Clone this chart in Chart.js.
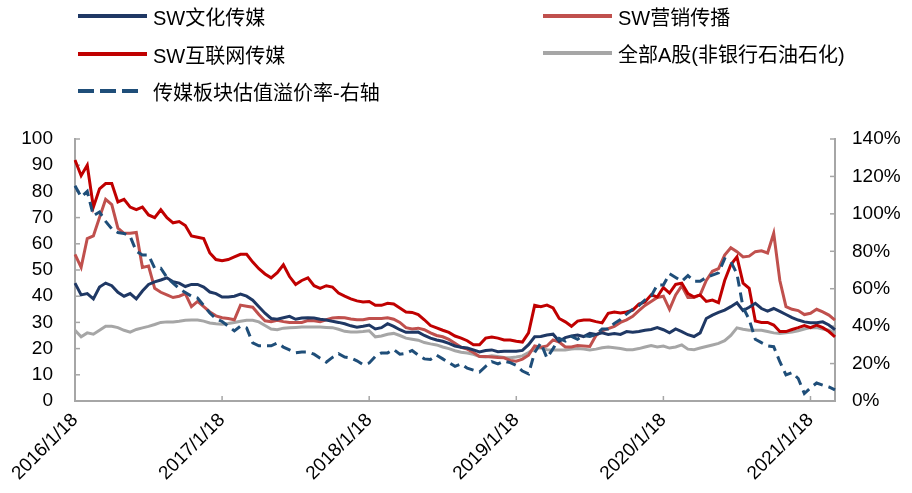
<!DOCTYPE html>
<html>
<head>
<meta charset="utf-8">
<script src="https://cdn.jsdelivr.net/npm/chart.js@4.4.1/dist/chart.umd.min.js"></script>
<style>
  html, body { margin: 0; padding: 0; background: #fff; }
  #wrap { position: relative; width: 912px; height: 493px; }
  #c { position: absolute; left: 0; top: 0; }
  .lg { position: absolute; height: 26px; display: flex; align-items: center; white-space: nowrap;
        font-family: "Liberation Sans", Arial, "Noto Sans CJK SC", sans-serif; font-size: 20px; color: #000; }
  .lg .sw { width: 69px; height: 4px; margin-right: 6px; }
</style>
</head>
<body>
<div id="wrap">
  <canvas id="c" width="912" height="493"></canvas>
</div>
<script>
// ---- categories (semi-monthly sample dates) ----
const dates = [
"2016/1/18","2016/2/3","2016/2/18","2016/3/3","2016/3/18","2016/4/3","2016/4/18","2016/5/3","2016/5/18","2016/6/3","2016/6/18","2016/7/3","2016/7/18","2016/8/3","2016/8/18","2016/9/3","2016/9/18","2016/10/3","2016/10/18","2016/11/3","2016/11/18","2016/12/3","2016/12/18",
"2017/1/3","2017/1/18","2017/2/3","2017/2/18","2017/3/3","2017/3/18","2017/4/3","2017/4/18","2017/5/3","2017/5/18","2017/6/3","2017/6/18","2017/7/3","2017/7/18","2017/8/3","2017/8/18","2017/9/3","2017/9/18","2017/10/3","2017/10/18","2017/11/3","2017/11/18","2017/12/3","2017/12/18",
"2018/1/3","2018/1/18","2018/2/3","2018/2/18","2018/3/3","2018/3/18","2018/4/3","2018/4/18","2018/5/3","2018/5/18","2018/6/3","2018/6/18","2018/7/3","2018/7/18","2018/8/3","2018/8/18","2018/9/3","2018/9/18","2018/10/3","2018/10/18","2018/11/3","2018/11/18","2018/12/3","2018/12/18",
"2019/1/3","2019/1/18","2019/2/3","2019/2/18","2019/3/3","2019/3/18","2019/4/3","2019/4/18","2019/5/3","2019/5/18","2019/6/3","2019/6/18","2019/7/3","2019/7/18","2019/8/3","2019/8/18","2019/9/3","2019/9/18","2019/10/3","2019/10/18","2019/11/3","2019/11/18","2019/12/3","2019/12/18",
"2020/1/3","2020/1/18","2020/2/3","2020/2/18","2020/3/3","2020/3/18","2020/4/3","2020/4/18","2020/5/3","2020/5/18","2020/6/3","2020/6/18","2020/7/3","2020/7/18","2020/8/3","2020/8/18","2020/9/3","2020/9/18","2020/10/3","2020/10/18","2020/11/3","2020/11/18","2020/12/3","2020/12/18",
"2021/1/3","2021/1/18","2021/2/3","2021/2/18","2021/3/3","2021/3/18"
];

// ---- series (left axis, PE) ----
const swWenhua = [
45,40.5,41,39,43.5,45,44,41.5,40,41,
39,42,44.5,45.5,46.2,47,45.5,45,43.7,44.5,
44.5,43.5,41.6,41,39.7,39.7,40,40.8,40,38.5,
36,33.5,31.5,31.2,31.8,32.3,31.2,31.7,31.8,31.7,
31.2,30.9,30.4,30,29.5,28.7,28.2,28.5,29,27.5,
28,29.5,28.5,27.2,26.2,26.2,26.3,25,24,23.3,
22.8,22,21,20.5,20.2,19.5,18.7,19.3,19.5,18.8,
19,19,19,19.3,21.5,24.5,24.6,25.2,25.5,22.8,
24.2,24.8,25.2,24.6,25.8,25.4,26,25.4,25.8,25.4,
26.5,26.2,26.5,27,27.3,28,27.2,26,27.5,26.5,
25.3,24.6,26,31.5,32.8,33.8,34.7,36,37.5,34.5,
35.8,37.3,35.3,34.3,35.3,34.2,33,31.8,30.9,30.2,
29.9,29.9,30.2,29,27.2
];
const swYingxiao = [
56,51,62,63,70,77,75,66,64,64,
64.3,51,51.5,43,41.5,40.5,39.5,40,41,36,
38,36,34,32.5,31.8,31.5,31,36.6,36.2,35.8,
33,30.6,30.3,30.8,30.3,30,30,30,30.7,30.6,
30.3,31,31.7,31.9,31.8,31.3,31,31,31.5,31.5,
31.5,31.8,31.2,30,28,27.5,27.8,27.2,26,25,
24.5,23.5,22,20.5,19.8,18.5,17,17,16.8,16.6,
16.5,15.5,15.2,16,17.5,21,20.5,21,23.3,22.5,
20.6,20.6,21.2,21,20.8,25,26.8,27.6,28.5,30,
31,32.3,34.5,36.5,38,39.5,40,35,40.5,44,
39.5,39.5,40.5,46,49.5,50.5,55.7,58.5,57,55,
55.3,57,57.3,56.5,64,46,36,35,34.5,33,
33.5,35,34,32.8,30.9
];
const swHulianwang = [
92,86,90,74,81,83,83,76,77,74,
73,74,71,70,73,70,68,68.5,67,63,
62.5,62,56.5,54,53.5,54,55,56,56,53,
50.5,48.5,47,49,52,47.5,44.5,46,47,44,
43,44,43.5,41.2,40,39,38.2,37.8,38,36.5,
36.5,37.3,37,35.5,34,33.8,33,31,28.8,27.9,
27,26.2,24.8,24,23,21.5,21.5,24,24.4,24,
23.3,23.3,22.8,22.5,26,36.5,36,36.6,35.5,31.5,
30.2,28.5,30.5,30.9,30.9,30.3,29.8,33.5,34,33.6,
34,34.7,37,37.8,40.5,39.7,43.3,41.2,44.5,45,
41,39.7,40.5,38,38.5,37.5,46,52,55,45,
43,30.5,30,30,29,26.5,26.5,27.3,28,28.8,
28,29,28,26.5,24.5
];
const allAShare = [
27,24.5,26,25.5,27,28.5,28.5,28,27,26.3,
27.3,27.9,28.5,29.2,30,30.2,30.2,30.4,30.8,30.9,
30.9,30.5,29.8,29.5,29.3,29.6,30,30.4,30.8,30.8,
30.2,28.8,27.5,27.2,27.8,28,28.1,28.2,28.2,28.2,
28.2,28.1,28,27.4,26.6,26.3,26.3,26.5,26.8,24.5,
24.8,25.5,25.8,25,24,23.6,23.2,22.3,21.8,21.4,
20.6,20,19.2,18.6,18.3,17.8,17,16.8,17.3,17,
16.6,16.5,16.8,17.2,18.5,20,20.3,19.6,19.5,19.5,
19.5,19.8,20,19.8,19.5,19.8,20.3,20.6,20.3,20,
19.6,19.6,20,20.6,21.2,20.6,21,20.2,20.6,21.4,
19.8,19.6,20.2,20.8,21.4,22,23,25,27.9,27.4,
27,27,27,26.5,26,25.8,26,26.3,26.8,27.5,
28,28,27.5,27,26
];
// ---- series (right axis, premium %) ----
const mediaPremium = [
115,109,112,99,101,96,92,90,89.5,88,
80,78,78,71,71,66,63,60,58,56,
55,51,47,44,42.5,40,37.5,40,39,31,
29.5,29.5,29.5,31,28.8,27.3,25.8,26.2,26.2,25,
22.8,20.8,23.3,25.3,23.5,23,21.5,19.5,20.3,23.8,
25.7,25.7,27.5,25,25.5,27,24.5,22.5,22.2,24.5,
22.5,20.5,18.5,19.8,17.5,16.5,15.5,18.5,21,19.8,
21.3,20.5,19,16,14.5,26,31,23,28,33.5,
32,34.5,33,35,34.5,35.5,38.5,38.5,41.5,43.5,
46.5,49,51,54,56,62,62,68,66,64,
67,64,64,66,67.3,68.5,76,74.5,68,50,
43.5,33,31.2,29.5,29,21,14,15.2,12,4,
7,9.6,8.5,7.5,5.9
];

// ---- tick labels ----
const xTickLabels = ["2016/1/18","2017/1/18","2018/1/18","2019/1/18","2020/1/18","2021/1/18"];
const leftTicks = [0,10,20,30,40,50,60,70,80,90,100];
const rightTicks = [0,20,40,60,80,100,120,140];

const seriesNames = ["SW文化传媒","SW营销传播","SW互联网传媒","全部A股(非银行石油石化)","传媒板块估值溢价率-右轴"];

const AXIS = '#A6A6A6';
const innerTicks = {
  id: 'innerTicks',
  beforeDatasetsDraw(chart) {
    const ctx = chart.ctx, a = chart.chartArea, s = chart.scales;
    ctx.save();
    ctx.strokeStyle = AXIS; ctx.lineWidth = 1.5;
    s.x.ticks.forEach((t, i) => {
      if (t.label === null || t.label === undefined || t.label === '') return;
      const px = s.x.getPixelForTick(i);
      ctx.beginPath(); ctx.moveTo(px, a.bottom); ctx.lineTo(px, a.bottom - 5); ctx.stroke();
    });
    s.y.ticks.forEach((t, i) => {
      const py = s.y.getPixelForTick(i);
      ctx.beginPath(); ctx.moveTo(a.left, py); ctx.lineTo(a.left + 5, py); ctx.stroke();
    });
    s.y1.ticks.forEach((t, i) => {
      const py = s.y1.getPixelForTick(i);
      ctx.beginPath(); ctx.moveTo(a.right, py); ctx.lineTo(a.right - 5, py); ctx.stroke();
    });
    ctx.restore();
  }
};

Chart.defaults.font.family = '"Liberation Sans", Arial, sans-serif';
Chart.defaults.color = '#000';

const colors = ['#1F3864', '#C0504D', '#C00000', '#A6A6A6', '#1F4E79'];
const values = [swWenhua, swYingxiao, swHulianwang, allAShare, mediaPremium];
const drawOrder = [2, 4, 3, 5, 1];

const datasets = values.map((v, i) => ({
  label: seriesNames[i],
  data: v,
  yAxisID: i === 4 ? 'y1' : 'y',
  borderColor: colors[i],
  backgroundColor: colors[i],
  borderWidth: 3,
  borderDash: i === 4 ? [10, 6] : [],
  pointRadius: 0,
  tension: 0,
  order: drawOrder[i],
  fill: false
}));

const chart = new Chart(document.getElementById('c'), {
  type: 'line',
  data: { labels: dates, datasets },
  plugins: [innerTicks],
  options: {
    responsive: false,
    animation: false,
    devicePixelRatio: 1,
    layout: { padding: { top: 139, left: 0, right: 0, bottom: 0 } },
    plugins: { legend: { display: false }, tooltip: { enabled: false } },
    scales: {
      x: {
        type: 'category',
        offset: false,
        grid: { display: false, drawTicks: false },
        border: { display: true, color: AXIS, width: 2 },
        ticks: {
          autoSkip: false, maxRotation: 45, minRotation: 45, padding: 8,
          font: { size: 19 },
          callback: (v, i) => xTickLabels.includes(dates[i]) ? dates[i] : null
        },
        afterFit(s) { s.height = 92; }
      },
      y: {
        position: 'left', min: 0, max: 100,
        grid: { display: false, drawTicks: false },
        border: { display: true, color: AXIS, width: 2 },
        afterBuildTicks(s) { s.ticks = leftTicks.map(v => ({ value: v })); },
        ticks: { padding: 22, font: { size: 19 } },
        afterFit(s) { s.width = 75; }
      },
      y1: {
        position: 'right', min: 0, max: 140,
        grid: { display: false, drawTicks: false },
        border: { display: true, color: AXIS, width: 2 },
        afterBuildTicks(s) { s.ticks = rightTicks.map(v => ({ value: v })); },
        ticks: { padding: 17, font: { size: 19 }, callback: v => v + '%' },
        afterFit(s) { s.width = 77; }
      }
    }
  }
});

// ---- HTML legend built from the datasets ----
const legendPos = [[78, 16], [543, 16], [78, 54], [543, 53], [78, 91]];
const wrap = document.getElementById('wrap');
chart.data.datasets.forEach((ds, i) => {
  const item = document.createElement('div');
  item.className = 'lg';
  item.style.left = legendPos[i][0] + 'px';
  item.style.top = (legendPos[i][1] - 13) + 'px';
  const sw = document.createElement('span');
  sw.className = 'sw';
  if (ds.borderDash && ds.borderDash.length) {
    sw.style.background = 'repeating-linear-gradient(to right, ' + ds.borderColor + ' 0 16px, transparent 16px 22px)';
    sw.style.width = '60px';
    sw.style.marginRight = '15px';
  } else {
    sw.style.background = ds.borderColor;
  }
  const tx = document.createElement('span');
  tx.textContent = ds.label;
  item.appendChild(sw); item.appendChild(tx);
  wrap.appendChild(item);
});
</script>
</body>
</html>
